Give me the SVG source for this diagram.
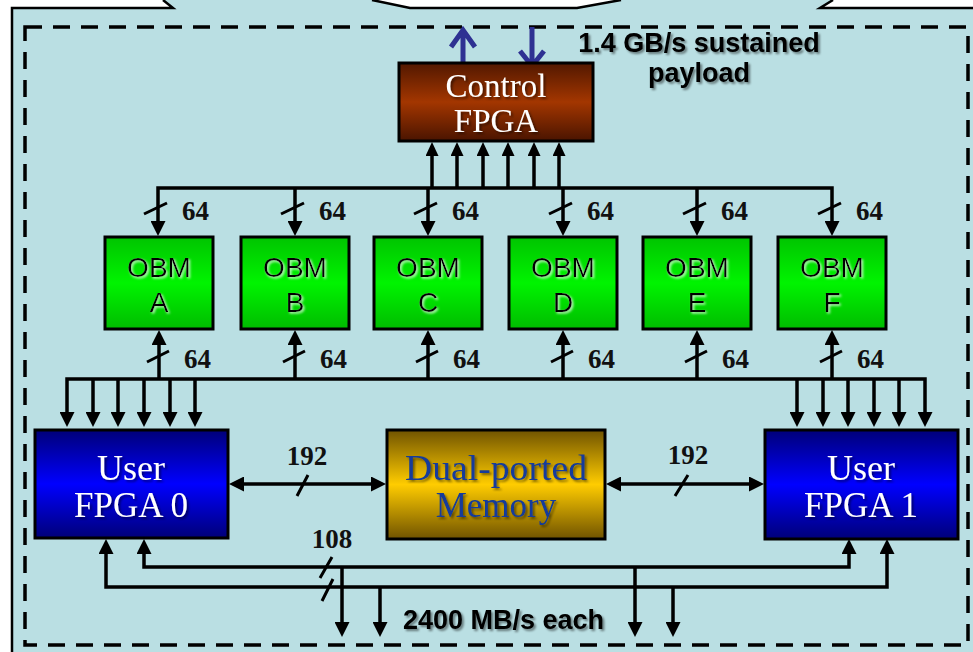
<svg xmlns="http://www.w3.org/2000/svg" width="973" height="652" viewBox="0 0 973 652">
<style>
.ln{fill:none;stroke:#000;stroke-width:3.5;stroke-linejoin:miter}
.sl{fill:none;stroke:#000;stroke-width:3}
.box{stroke:#000;stroke-width:3}
.wt{font-family:"Liberation Serif","Times New Roman",serif;fill:#fff;text-anchor:middle}
.mt{font-family:"Liberation Serif","Times New Roman",serif;fill:#123A9C;text-anchor:middle}
.ob{font-family:"Liberation Sans",Arial,sans-serif;font-size:28px;fill:#000;text-anchor:middle}
.num{font-family:"Liberation Serif","Times New Roman",serif;font-weight:bold;font-size:27px;fill:#111}
.bs{font-family:"Liberation Sans",Arial,sans-serif;font-weight:bold;font-size:27px;fill:#000}
</style>
<defs>
<marker id="ah" markerUnits="userSpaceOnUse" markerWidth="15" markerHeight="15" viewBox="0 0 15 15" refX="1" refY="7.5" orient="auto-start-reverse"><path d="M0,0 L15,7.5 L0,15 z" fill="#000"/></marker>
<marker id="ahs" markerUnits="userSpaceOnUse" markerWidth="14" markerHeight="13" viewBox="0 0 14 13" refX="1" refY="6.5" orient="auto-start-reverse"><path d="M0,0 L14,6.5 L0,13 z" fill="#000"/></marker>
<linearGradient id="gc" x1="0" y1="0" x2="0" y2="1"><stop offset="0" stop-color="#521800"/><stop offset="0.5" stop-color="#a33600"/><stop offset="1" stop-color="#4a1400"/></linearGradient>
<linearGradient id="go" x1="0" y1="0" x2="0" y2="1"><stop offset="0" stop-color="#00c400"/><stop offset="0.5" stop-color="#00f400"/><stop offset="1" stop-color="#00bc00"/></linearGradient>
<linearGradient id="gu" x1="0" y1="0" x2="0" y2="1"><stop offset="0" stop-color="#000078"/><stop offset="0.5" stop-color="#0000ff"/><stop offset="1" stop-color="#000078"/></linearGradient>
<linearGradient id="gm" x1="0" y1="0" x2="0" y2="1"><stop offset="0" stop-color="#705300"/><stop offset="0.5" stop-color="#ffcc00"/><stop offset="1" stop-color="#705300"/></linearGradient>
<filter id="sh" x="-10%" y="-20%" width="130%" height="150%"><feDropShadow dx="2" dy="2" stdDeviation="1" flood-color="#000" flood-opacity="0.45"/></filter>
<filter id="shw" x="-10%" y="-20%" width="130%" height="150%"><feDropShadow dx="1.5" dy="1.5" stdDeviation="0.8" flood-color="#fff" flood-opacity="0.8"/></filter>
</defs>

<rect x="0" y="0" width="973" height="652" fill="#fff"/>
<g id="panel">
<polygon points="12,660 12,8 173,8 163,0 372,0 410,8 577,8 621,0 833,0 820,8 980,8 980,660" fill="#BADFE3"/>
<path d="M12,660 L12,8 L173,8 L163,0 M372,0 L410,8 L577,8 L621,0 M833,0 L820,8 L980,8" fill="none" stroke="#000" stroke-width="2.5"/>
<rect x="25" y="27" width="943" height="618" fill="none" stroke="#000" stroke-width="3.5" stroke-dasharray="17 11"/>
</g>

<g id="connectors">
<g fill="none" stroke="#2E3192" stroke-width="5" stroke-linecap="butt">
<path d="M463,63 V31 M451,47 L463,30 L475,47"/>
<path d="M532,27 V65 M520,51 L532,66 L544,51"/>
</g>
<path class="ln" d="M158,222 V188 H832 V222" marker-start="url(#ah)" marker-end="url(#ah)"/>
<path class="ln" d="M295,188 V222" marker-end="url(#ah)"/>
<path class="ln" d="M428,188 V222" marker-end="url(#ah)"/>
<path class="ln" d="M563,188 V222" marker-end="url(#ah)"/>
<path class="ln" d="M697,188 V222" marker-end="url(#ah)"/>
<path class="ln" d="M432,188 V155" marker-end="url(#ahs)"/>
<path class="ln" d="M457,188 V155" marker-end="url(#ahs)"/>
<path class="ln" d="M483,188 V155" marker-end="url(#ahs)"/>
<path class="ln" d="M508,188 V155" marker-end="url(#ahs)"/>
<path class="ln" d="M534,188 V155" marker-end="url(#ahs)"/>
<path class="ln" d="M559,188 V155" marker-end="url(#ahs)"/>
<path class="sl" d="M144,214 L167,203 M281,214 L304,203 M414,214 L437,203 M549,214 L572,203 M683,214 L706,203 M818,214 L841,203"/>
<path class="ln" d="M67,413 V379 H925 V413" marker-start="url(#ah)" marker-end="url(#ah)"/>
<path class="ln" d="M93,379 V413" marker-end="url(#ah)"/>
<path class="ln" d="M118,379 V413" marker-end="url(#ah)"/>
<path class="ln" d="M144,379 V413" marker-end="url(#ah)"/>
<path class="ln" d="M170,379 V413" marker-end="url(#ah)"/>
<path class="ln" d="M195,379 V413" marker-end="url(#ah)"/>
<path class="ln" d="M797,379 V413" marker-end="url(#ah)"/>
<path class="ln" d="M823,379 V413" marker-end="url(#ah)"/>
<path class="ln" d="M848,379 V413" marker-end="url(#ah)"/>
<path class="ln" d="M874,379 V413" marker-end="url(#ah)"/>
<path class="ln" d="M899,379 V413" marker-end="url(#ah)"/>
<path class="ln" d="M159,379 V344" marker-end="url(#ah)"/>
<path class="ln" d="M295,379 V344" marker-end="url(#ah)"/>
<path class="ln" d="M428,379 V344" marker-end="url(#ah)"/>
<path class="ln" d="M563,379 V344" marker-end="url(#ah)"/>
<path class="ln" d="M697,379 V344" marker-end="url(#ah)"/>
<path class="ln" d="M832,379 V344" marker-end="url(#ah)"/>
<path class="sl" d="M147,362 L169,351 M283,362 L305,351 M416,362 L438,351 M551,362 L573,351 M685,362 L707,351 M820,362 L842,351"/>
<path class="ln" d="M243,484 H372" marker-start="url(#ah)" marker-end="url(#ah)"/>
<path class="ln" d="M620,484 H750" marker-start="url(#ah)" marker-end="url(#ah)"/>
<path class="sl" d="M297,496 L308,475 M675,496 L688,475"/>
<path class="ln" d="M144,553 V567 H849 V553" marker-start="url(#ah)" marker-end="url(#ah)"/>
<path class="ln" d="M106,553 V587 H887 V553" marker-start="url(#ah)" marker-end="url(#ah)"/>
<path class="ln" d="M342,567 V623" marker-end="url(#ah)"/>
<path class="ln" d="M635,567 V623" marker-end="url(#ah)"/>
<path class="ln" d="M380,587 V623" marker-end="url(#ah)"/>
<path class="ln" d="M673,587 V623" marker-end="url(#ah)"/>
<path class="sl" d="M320,578 L332,557 M322,601 L333,579"/>
</g>

<g id="labels">
<text class="bs" x="699" y="52" text-anchor="middle" filter="url(#sh)">1.4 GB/s sustained</text>
<text class="bs" x="699" y="82" text-anchor="middle" filter="url(#sh)">payload</text>
<text class="num" x="182" y="220">64</text>
<text class="num" x="319" y="220">64</text>
<text class="num" x="452" y="220">64</text>
<text class="num" x="587" y="220">64</text>
<text class="num" x="721" y="220">64</text>
<text class="num" x="856" y="220">64</text>
<text class="num" x="184" y="368">64</text>
<text class="num" x="320" y="368">64</text>
<text class="num" x="453" y="368">64</text>
<text class="num" x="588" y="368">64</text>
<text class="num" x="722" y="368">64</text>
<text class="num" x="857" y="368">64</text>
<text class="num" x="307" y="465" text-anchor="middle">192</text>
<text class="num" x="688" y="464" text-anchor="middle">192</text>
<text class="num" x="332" y="548" text-anchor="middle">108</text>
<text class="bs" x="403" y="629" filter="url(#sh)">2400 MB/s each</text>
</g>

<g id="control-fpga">
<rect class="box" x="399" y="63" width="194" height="78" fill="url(#gc)"/>
<text class="wt" x="496" y="97" font-size="33" filter="url(#sh)">Control</text>
<text class="wt" x="496" y="132" font-size="33" filter="url(#sh)">FPGA</text>
</g>

<g id="obm-a"><rect class="box" x="105" y="237" width="108" height="92" fill="url(#go)"/><text class="ob" x="159" y="277" filter="url(#shw)">OBM</text><text class="ob" x="159" y="312" filter="url(#shw)">A</text></g>
<g id="obm-b"><rect class="box" x="241" y="237" width="108" height="92" fill="url(#go)"/><text class="ob" x="295" y="277" filter="url(#shw)">OBM</text><text class="ob" x="295" y="312" filter="url(#shw)">B</text></g>
<g id="obm-c"><rect class="box" x="374" y="237" width="108" height="92" fill="url(#go)"/><text class="ob" x="428" y="277" filter="url(#shw)">OBM</text><text class="ob" x="428" y="312" filter="url(#shw)">C</text></g>
<g id="obm-d"><rect class="box" x="509" y="237" width="108" height="92" fill="url(#go)"/><text class="ob" x="563" y="277" filter="url(#shw)">OBM</text><text class="ob" x="563" y="312" filter="url(#shw)">D</text></g>
<g id="obm-e"><rect class="box" x="643" y="237" width="108" height="92" fill="url(#go)"/><text class="ob" x="697" y="277" filter="url(#shw)">OBM</text><text class="ob" x="697" y="312" filter="url(#shw)">E</text></g>
<g id="obm-f"><rect class="box" x="778" y="237" width="108" height="92" fill="url(#go)"/><text class="ob" x="832" y="277" filter="url(#shw)">OBM</text><text class="ob" x="832" y="312" filter="url(#shw)">F</text></g>

<g id="user-fpga-0">
<rect class="box" x="35" y="430" width="193" height="108" fill="url(#gu)"/>
<text class="wt" x="131" y="480" font-size="36" filter="url(#sh)">User</text>
<text class="wt" x="131" y="517" font-size="35" filter="url(#sh)">FPGA 0</text>
</g>

<g id="dual-ported-memory">
<rect class="box" x="387" y="430" width="218" height="109" fill="url(#gm)"/>
<text class="mt" x="496" y="480" font-size="35" textLength="182" lengthAdjust="spacingAndGlyphs" filter="url(#sh)">Dual-ported</text>
<text class="mt" x="496" y="517" font-size="35" filter="url(#sh)">Memory</text>
</g>

<g id="user-fpga-1">
<rect class="box" x="765" y="430" width="193" height="109" fill="url(#gu)"/>
<text class="wt" x="861" y="480" font-size="36" filter="url(#sh)">User</text>
<text class="wt" x="861" y="517" font-size="35" filter="url(#sh)">FPGA 1</text>
</g>
</svg>
